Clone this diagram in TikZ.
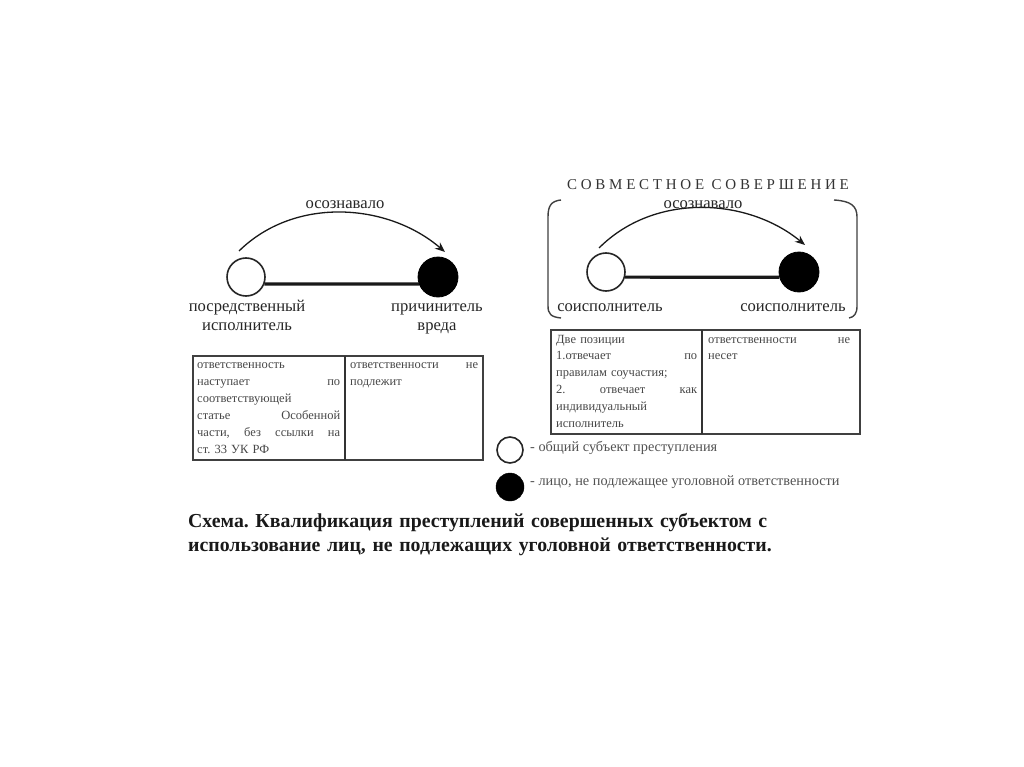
\documentclass[tikz,border=0pt]{standalone}
\usepackage{fontspec}
\setmainfont{Liberation Serif}
\usetikzlibrary{arrows.meta}
\frenchspacing
\tikzset{
  wcirc/.style={circle,draw=black!85,line width=1.6pt,fill=white,minimum size=38pt,inner sep=0pt},
  bcirc/.style={circle,draw=black,fill=black,line width=0.8pt,minimum size=40pt,inner sep=0pt},
  lwcirc/.style={circle,draw=black!85,line width=1.6pt,fill=white,minimum size=26pt,inner sep=0pt},
  lbcirc/.style={circle,draw=black,fill=black,minimum size=28pt,inner sep=0pt},
  lbl/.style={font=\fontsize{16.6}{19}\selectfont,text=black!85,align=center,inner sep=0pt,anchor=base,text width=150pt},
  link/.style={line width=3.2pt,black!90},
  arcarrow/.style={line width=1.3pt,black!90,-{Stealth[length=10pt,width=8pt]}},
  cell/.style={font=\fontsize{12.5}{16.9}\selectfont,text=black!72,align=left,inner sep=0pt,anchor=base west},
  tbl/.style={draw=black!75,line width=1.3pt},
  divider/.style={black!80,line width=1.9pt},
  brk/.style={black!75,line width=1.4pt},
  legtext/.style={font=\fontsize{14.3}{16}\selectfont,text=black!68,inner sep=0pt,anchor=base west},
  caption/.style={font=\fontsize{19.8}{24.5}\selectfont\bfseries,text=black!90,align=left,inner sep=0pt,anchor=base west,text width=680pt},
}
\begin{document}
\begin{tikzpicture}[x=1pt,y=-1pt]
\useasboundingbox[fill=white] (0,0) rectangle (1024,767);

% ---------- left diagram ----------
\coordinate (a1s) at (239,251);
\coordinate (a1e) at (445,252);
\draw[arcarrow] (a1s) .. controls (295,196) and (388,203) .. (a1e);
\node[lbl,text width=100pt] (t1) at (345,209) {осознавало};
\node[wcirc] (w1) at (246,277) {};
\node[bcirc] (b1) at (438,277) {};
\draw[link] (w1.-21) -- (b1.-160);
\node[lbl] (l1) at (247,311) {посредственный\\исполнитель};
\node[lbl] (l2) at (437,311) {причинитель\\вреда};

% left table
\draw[tbl] (193,356) rectangle (483,460);
\coordinate (d1t) at (345,356);
\coordinate (d1b) at (345,460);
\draw[divider] (d1t) -- (d1b);
\node[cell,text width=143pt] (c1) at (197,368.5) {ответственность\\наступает\hfill по\\соответствующей\\статье\hfill Особенной\\части,\hfill без\hfill ссылки\hfill на\\ст. 33 УК РФ};
\node[cell,text width=128pt] (c2) at (350,368.5) {ответственности\hfill не\\подлежит};

% ---------- right diagram ----------
\node[font=\fontsize{15}{18}\selectfont\addfontfeature{LetterSpace=25},text=black!80,inner sep=0pt,anchor=base] (title) at (708,190) {СОВМЕСТНОЕ СОВЕРШЕНИЕ};
\draw[brk] (561,200) .. controls (551,201) and (548,206) .. (548,217) -- (548,306) .. controls (548,314) and (551,317) .. (561,318);
\draw[brk] (834,200) .. controls (851,201) and (857,206) .. (857,217) -- (857,306) .. controls (857,314) and (854,317) .. (849,318);

\coordinate (a2s) at (599,248);
\coordinate (a2e) at (805,245);
\draw[arcarrow] (a2s) .. controls (655,192) and (748,198) .. (a2e);
\node[lbl,text width=100pt] (t2) at (703,209) {осознавало};
\node[wcirc] (w2) at (606,272) {};
\node[bcirc] (b2) at (799,272) {};
\draw[link] (w2.-15) -- (b2.-165);
\node[lbl] (l3) at (610,311) {соисполнитель};
\node[lbl] (l4) at (793,311) {соисполнитель};

% right table
\draw[tbl] (551,330) rectangle (860,434);
\coordinate (d2t) at (702,330);
\coordinate (d2b) at (702,434);
\draw[divider] (d2t) -- (d2b);
\node[cell,text width=141pt] (c3) at (556,343) {Две позиции\\1.отвечает\hfill по\\правилам соучастия;\\2.\hfill отвечает\hfill как\\индивидуальный\\исполнитель};
\node[cell,text width=142pt] (c4) at (708,343) {ответственности\hfill не\\несет};

% ---------- legend ----------
\node[lwcirc] (lg1) at (510,450) {};
\node[lbcirc] (lg2) at (510,487) {};
\node[legtext] (lt1) at (530,451) {- общий субъект преступления};
\node[legtext] (lt2) at (530,485) {- лицо, не подлежащее уголовной ответственности};

% ---------- caption ----------
\node[caption] (cap) at (188,527) {Схема. Квалификация преступлений совершенных субъектом с\\использование лиц, не подлежащих уголовной ответственности.};
\end{tikzpicture}
\end{document}
